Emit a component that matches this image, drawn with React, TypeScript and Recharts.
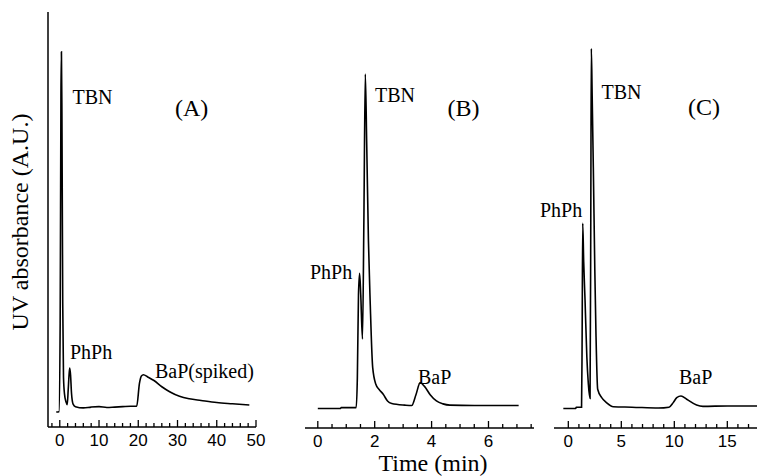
import React from 'react';
import { LineChart, Line, XAxis, YAxis } from 'recharts';

// Panel (A)
const timeA = [-0.9, -0.2, 0.1, 0.3, 0.42, 0.55, 0.75, 0.95, 1.2, 1.6, 1.9, 2.15, 2.4, 2.55, 2.75, 3.0, 3.4, 4.0, 6, 8, 10, 12, 14, 16, 18, 19.6, 20.3, 20.8, 21.3, 22.5, 24, 26, 28, 30.5, 33, 36, 40, 44, 48.3];
const signalA = [3.6, 3.7, 25, 80, 90.4, 75, 30, 12, 8, 6, 5.4, 9, 13, 14.2, 12.5, 8, 5.5, 4.9, 4.6, 4.8, 4.9, 4.7, 4.8, 4.9, 5.0, 5.0, 10.5, 12.3, 12.6, 12.0, 11.2, 9.7, 8.5, 7.4, 6.8, 6.4, 5.9, 5.6, 5.3];
const ticksA = [-2, 0, 2, 4, 6, 8, 10, 12, 14, 16, 18, 20, 22, 24, 26, 28, 30, 32, 34, 36, 38, 40, 42, 44, 46, 48, 50];
const majorA = [0, 10, 20, 30, 40, 50];

// Panel (B)
const timeB = [0, 0.8, 0.82, 1.35, 1.39, 1.43, 1.47, 1.51, 1.57, 1.62, 1.67, 1.72, 1.78, 1.84, 1.93, 2.04, 2.15, 2.3, 2.45, 2.6, 3.06, 3.3, 3.45, 3.6, 3.75, 3.95, 4.17, 4.4, 4.64, 5.5, 7.06];
const signalB = [4.7, 4.7, 4.9, 4.9, 12, 32, 37.2, 32, 21.4, 50, 85.1, 68, 45, 30.6, 14.5, 10.5, 9.3, 8.1, 6.5, 5.9, 5.5, 5.4, 8.0, 10.9, 10.0, 8.0, 6.5, 5.8, 5.5, 5.4, 5.4];
const ticksB = [0, 0.5, 1, 1.5, 2, 2.5, 3, 3.5, 4, 4.5, 5, 5.5, 6, 6.5, 7, 7.5];
const majorB = [0, 2, 4, 6];

// Panel (C)
const timeC = [-0.47, 0.7, 0.75, 1.25, 1.3, 1.36, 1.45, 1.58, 1.75, 1.89, 2.05, 2.12, 2.17, 2.25, 2.36, 2.5, 2.61, 2.77, 3.15, 3.6, 4.25, 6, 8.5, 9.5, 9.9, 10.23, 10.63, 11.17, 12.1, 12.7, 15, 17.8];
const signalC = [4.7, 4.7, 5.0, 5.0, 20, 49.2, 40, 30.6, 17, 10.6, 7.1, 50, 91.2, 80, 62.7, 38, 22.6, 9.3, 7.3, 6.1, 5.1, 5.0, 4.8, 5.0, 6.1, 7.3, 7.7, 6.9, 5.5, 5.2, 5.3, 5.3];
const ticksC = [0, 1, 2, 3, 4, 5, 6, 7, 8, 9, 10, 11, 12, 13, 14, 15, 16, 17];
const majorC = [0, 5, 10, 15];

const SERIF = '"Liberation Serif", "Times New Roman", serif';
const SANS = '"Liberation Sans", Arial, sans-serif';

const toRows = (t: number[], v: number[]) => t.map((x, i) => ({ t: x, v: v[i] }));

const makeTick = (majors: number[]) => (props: any) => {
  const { x, y, payload } = props;
  const isMajor = majors.includes(payload.value);
  return (
    <g>
      <line x1={x} x2={x} y1={y} y2={y - (isMajor ? 7 : 4)} stroke="#000" strokeWidth={1.3} />
      {isMajor && (
        <text x={x} y={y + 19} textAnchor="middle" fontFamily={SANS} fontSize={17} fill="#000">
          {payload.value}
        </text>
      )}
    </g>
  );
};

type PanelProps = {
  left: number;
  width: number;
  ml: number;
  mr: number;
  axisY: number;
  domain: [number, number];
  ticks: number[];
  majors: number[];
  t: number[];
  v: number[];
  showY?: boolean;
};

const Panel = ({ left, width, ml, mr, axisY, domain, ticks, majors, t, v, showY }: PanelProps) => (
  <div style={{ position: 'absolute', left, top: 0 }}>
    <LineChart
      width={width}
      height={476}
      data={toRows(t, v)}
      margin={{ top: 12, right: mr, bottom: 0, left: ml - 1 }}
    >
      <XAxis
        dataKey="t"
        type="number"
        domain={domain}
        allowDataOverflow
        ticks={ticks}
        interval={0}
        height={476 - axisY}
        tickSize={0}
        tickMargin={0}
        tickLine={false}
        axisLine={{ stroke: '#000', strokeWidth: 1.5 }}
        tick={makeTick(majors)}
      />
      <YAxis
        type="number"
        domain={[0, 100]}
        allowDataOverflow
        width={1}
        tick={false}
        tickLine={false}
        axisLine={showY ? { stroke: '#000', strokeWidth: 1.5 } : false}
      />
      <Line
        type="monotone"
        dataKey="v"
        stroke="#000"
        strokeWidth={1.6}
        dot={false}
        isAnimationActive={false}
      />
    </LineChart>
  </div>
);

const labels = [
  { text: 'TBN', x: 72.5, y: 104, size: 20 },
  { text: '(A)', x: 175, y: 116, size: 24 },
  { text: 'PhPh', x: 70, y: 359, size: 20 },
  { text: 'BaP(spiked)', x: 155, y: 378, size: 20 },
  { text: 'TBN', x: 375, y: 102, size: 20 },
  { text: '(B)', x: 447.5, y: 116, size: 24 },
  { text: 'PhPh', x: 310, y: 279, size: 20 },
  { text: 'BaP', x: 418, y: 384, size: 20 },
  { text: 'TBN', x: 601.5, y: 99, size: 20 },
  { text: '(C)', x: 688, y: 115, size: 24 },
  { text: 'PhPh', x: 540, y: 216.5, size: 20 },
  { text: 'BaP', x: 679, y: 384, size: 20 },
];

export default function App() {
  return (
    <div style={{ position: 'absolute', left: 0, top: 0, width: 757, height: 476, background: '#fff', overflow: 'hidden' }}>
      <Panel left={0} width={300} ml={48} mr={44} axisY={427} domain={[-3, 50]} ticks={ticksA} majors={majorA} t={timeA} v={signalA} showY />
      <Panel left={290} width={250} ml={15} mr={6} axisY={428} domain={[-0.45, 7.6]} ticks={ticksB} majors={majorB} t={timeB} v={signalB} />
      <Panel left={540} width={217} ml={14} mr={0} axisY={428} domain={[-1.35, 17.8]} ticks={ticksC} majors={majorC} t={timeC} v={signalC} />
      <svg width={757} height={476} style={{ position: 'absolute', left: 0, top: 0, pointerEvents: 'none' }}>
        {labels.map((l, i) => (
          <text key={i} x={l.x} y={l.y} fontFamily={SERIF} fontSize={l.size} fill="#000">
            {l.text}
          </text>
        ))}
        <text
          x={28}
          y={222}
          transform="rotate(-90, 28, 222)"
          textAnchor="middle"
          fontFamily={SERIF}
          fontSize={24}
          fill="#000"
        >
          UV absorbance (A.U.)
        </text>
        <text x={433} y={471} textAnchor="middle" fontFamily={SERIF} fontSize={24} fill="#000">
          Time (min)
        </text>
      </svg>
    </div>
  );
}
